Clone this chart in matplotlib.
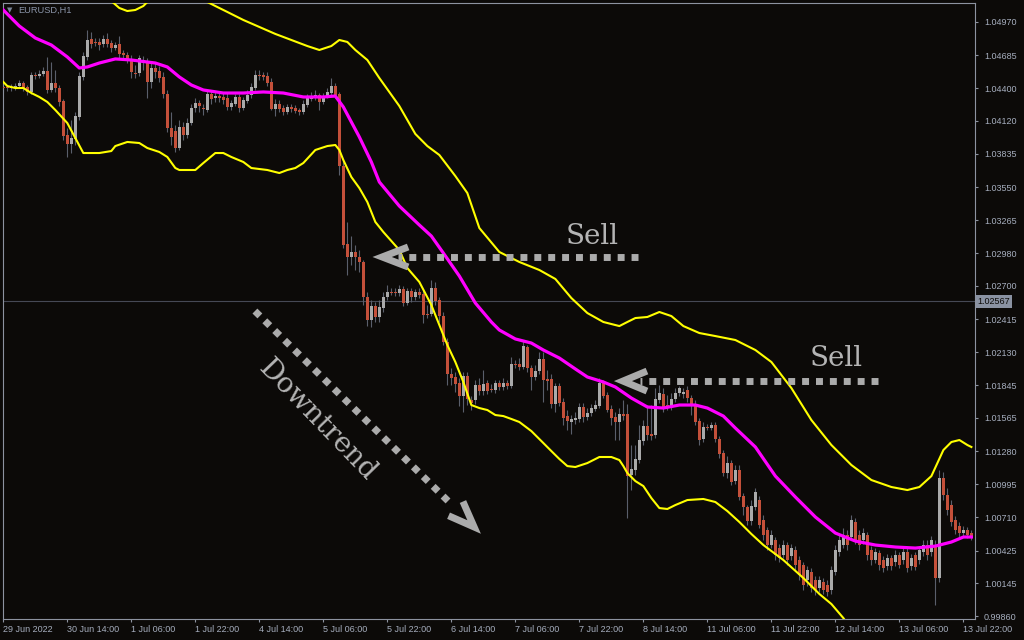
import numpy as np
import matplotlib.pyplot as plt

plt.rcParams["font.family"] = ["Liberation Sans", "DejaVu Sans"]

# EURUSD H1 candles, 29 Jun 22:00 .. 13 Jul 23:00
opens = [
    1.04402, 1.04402, 1.04402, 1.04402, 1.04419, 1.04445, 1.04411, 1.04368, 1.04514, 1.04505,
    1.04523, 1.04548, 1.04385, 1.04445, 1.04402, 1.04290, 1.03998, 1.03921, 1.03964, 1.04153,
    1.04497, 1.04669, 1.04824, 1.04798, 1.04798, 1.04781, 1.04824, 1.04789, 1.04746, 1.04781,
    1.04703, 1.04686, 1.04643, 1.04531, 1.04531, 1.04643, 1.04617, 1.04454, 1.04574, 1.04548,
    1.04497, 1.04351, 1.04058, 1.04032, 1.03886, 1.04067, 1.03998, 1.04101, 1.04230, 1.04273,
    1.04230, 1.04213, 1.04351, 1.04316, 1.04325, 1.04325, 1.04316, 1.04239, 1.04265, 1.04325,
    1.04230, 1.04290, 1.04342, 1.04402, 1.04514, 1.04514, 1.04505, 1.04454, 1.04222, 1.04265,
    1.04230, 1.04196, 1.04239, 1.04230, 1.04213, 1.04196, 1.04256, 1.04308, 1.04316, 1.04342,
    1.04282, 1.04333, 1.04359, 1.04419, 1.04351, 1.03731, 1.03061, 1.02949, 1.02992, 1.02949,
    1.02906, 1.02605, 1.02407, 1.02527, 1.02433, 1.02510, 1.02605, 1.02648, 1.02648, 1.02639,
    1.02674, 1.02553, 1.02656, 1.02605, 1.02648, 1.02631, 1.02459, 1.02459, 1.02682, 1.02579,
    1.02441, 1.02218, 1.01943, 1.01917, 1.01865, 1.01753, 1.01925, 1.01719, 1.01719, 1.01848,
    1.01796, 1.01865, 1.01814, 1.01805, 1.01865, 1.01831, 1.01865, 1.01839, 1.02029, 1.02029,
    1.02003, 1.02175, 1.01994, 1.01917, 1.01968, 1.02072, 1.01900, 1.01900, 1.01685, 1.01839,
    1.01702, 1.01581, 1.01530, 1.01547, 1.01556, 1.01659, 1.01573, 1.01607, 1.01642, 1.01667,
    1.01865, 1.01762, 1.01642, 1.01573, 1.01530, 1.01599, 1.01599, 1.01074, 1.01117, 1.01203,
    1.01366, 1.01495, 1.01427, 1.01418, 1.01719, 1.01771, 1.01676, 1.01667, 1.01728, 1.01779,
    1.01771, 1.01805, 1.01736, 1.01685, 1.01538, 1.01384, 1.01487, 1.01478, 1.01504, 1.01384,
    1.01263, 1.01091, 1.01177, 1.01022, 1.01117, 1.00893, 1.00799, 1.00678, 1.00799, 1.00859,
    1.00687, 1.00601, 1.00472, 1.00515, 1.00446, 1.00386, 1.00472, 1.00377, 1.00429, 1.00343,
    1.00300, 1.00171, 1.00240, 1.00171, 1.00102, 1.00154, 1.00128, 1.00085, 1.00240, 1.00412,
    1.00472, 1.00558, 1.00541, 1.00670, 1.00558, 1.00515, 1.00558, 1.00429, 1.00343, 1.00403,
    1.00343, 1.00291, 1.00360, 1.00326, 1.00386, 1.00343, 1.00412, 1.00291, 1.00386, 1.00343,
    1.00412, 1.00472, 1.00412, 1.00472, 1.00188, 1.01048, 1.00902, 1.00816, 1.00687, 1.00635,
    1.00575, 1.00601, 1.00575,
]
closes = [
    1.04398, 1.04398, 1.04411, 1.04419, 1.04445, 1.04402, 1.04368, 1.04514, 1.04505, 1.04523,
    1.04548, 1.04385, 1.04445, 1.04402, 1.04282, 1.03989, 1.03921, 1.03972, 1.04161, 1.04505,
    1.04677, 1.04815, 1.04781, 1.04789, 1.04772, 1.04824, 1.04781, 1.04746, 1.04772, 1.04695,
    1.04686, 1.04643, 1.04540, 1.04523, 1.04660, 1.04617, 1.04454, 1.04574, 1.04540, 1.04488,
    1.04351, 1.04058, 1.03981, 1.03886, 1.04067, 1.03998, 1.04101, 1.04230, 1.04273, 1.04247,
    1.04222, 1.04351, 1.04308, 1.04333, 1.04320, 1.04299, 1.04239, 1.04273, 1.04325, 1.04230,
    1.04299, 1.04342, 1.04411, 1.04514, 1.04508, 1.04497, 1.04445, 1.04222, 1.04265, 1.04222,
    1.04196, 1.04239, 1.04222, 1.04204, 1.04196, 1.04265, 1.04316, 1.04333, 1.04342, 1.04282,
    1.04333, 1.04368, 1.04419, 1.04342, 1.03731, 1.03052, 1.02949, 1.02992, 1.02949, 1.02906,
    1.02605, 1.02407, 1.02527, 1.02433, 1.02519, 1.02605, 1.02648, 1.02643, 1.02639, 1.02674,
    1.02553, 1.02656, 1.02605, 1.02648, 1.02622, 1.02450, 1.02454, 1.02682, 1.02570, 1.02441,
    1.02218, 1.01943, 1.01908, 1.01857, 1.01753, 1.01925, 1.01728, 1.01693, 1.01848, 1.01796,
    1.01857, 1.01796, 1.01809, 1.01865, 1.01831, 1.01865, 1.01839, 1.02029, 1.02024, 1.02003,
    1.02183, 1.01994, 1.01917, 1.01968, 1.02072, 1.01891, 1.01882, 1.01685, 1.01839, 1.01693,
    1.01564, 1.01538, 1.01556, 1.01564, 1.01659, 1.01573, 1.01607, 1.01650, 1.01676, 1.01865,
    1.01753, 1.01633, 1.01564, 1.01530, 1.01599, 1.01581, 1.01065, 1.01126, 1.01212, 1.01375,
    1.01495, 1.01418, 1.01409, 1.01728, 1.01779, 1.01659, 1.01671, 1.01728, 1.01779, 1.01822,
    1.01788, 1.01736, 1.01676, 1.01530, 1.01375, 1.01487, 1.01482, 1.01504, 1.01384, 1.01255,
    1.01091, 1.01177, 1.01014, 1.01117, 1.00885, 1.00799, 1.00678, 1.00807, 1.00928, 1.00644,
    1.00558, 1.00472, 1.00558, 1.00386, 1.00360, 1.00472, 1.00343, 1.00446, 1.00300, 1.00214,
    1.00128, 1.00257, 1.00102, 1.00085, 1.00171, 1.00085, 1.00068, 1.00257, 1.00429, 1.00515,
    1.00558, 1.00472, 1.00687, 1.00515, 1.00472, 1.00575, 1.00386, 1.00343, 1.00412, 1.00300,
    1.00274, 1.00360, 1.00291, 1.00386, 1.00300, 1.00412, 1.00274, 1.00360, 1.00283, 1.00429,
    1.00472, 1.00386, 1.00515, 1.00188, 1.01048, 1.00902, 1.00773, 1.00670, 1.00601, 1.00575,
    1.00601, 1.00558, 1.00541,
]
highs = [
    1.04428, 1.04419, 1.04437, 1.04445, 1.04471, 1.04462, 1.04428, 1.04540, 1.04540, 1.04557,
    1.04583, 1.04669, 1.04626, 1.04557, 1.04428, 1.04308, 1.04058, 1.04127, 1.04196, 1.04540,
    1.04712, 1.04901, 1.04884, 1.04832, 1.04832, 1.04858, 1.04875, 1.04815, 1.04798, 1.04849,
    1.04729, 1.04712, 1.04686, 1.04600, 1.04686, 1.04677, 1.04660, 1.04626, 1.04626, 1.04591,
    1.04540, 1.04385, 1.04196, 1.04084, 1.04127, 1.04110, 1.04144, 1.04265, 1.04316, 1.04299,
    1.04265, 1.04385, 1.04385, 1.04368, 1.04359, 1.04368, 1.04359, 1.04299, 1.04351, 1.04351,
    1.04325, 1.04385, 1.04445, 1.04557, 1.04557, 1.04540, 1.04540, 1.04488, 1.04308, 1.04299,
    1.04256, 1.04265, 1.04265, 1.04256, 1.04230, 1.04299, 1.04351, 1.04368, 1.04385, 1.04359,
    1.04359, 1.04402, 1.04488, 1.04445, 1.04368, 1.03783, 1.03250, 1.03129, 1.03052, 1.03009,
    1.02923, 1.02648, 1.02579, 1.02562, 1.02579, 1.02648, 1.02708, 1.02682, 1.02682, 1.02708,
    1.02699, 1.02682, 1.02682, 1.02674, 1.02682, 1.02665, 1.02536, 1.02751, 1.02734, 1.02605,
    1.02476, 1.02252, 1.01994, 1.01960, 1.01908, 1.01960, 1.01960, 1.01753, 1.01891, 1.01908,
    1.01977, 1.01891, 1.01857, 1.01891, 1.01891, 1.01908, 1.01891, 1.02089, 1.02063, 1.02080,
    1.02235, 1.02192, 1.02020, 1.02020, 1.02132, 1.02132, 1.01977, 1.01943, 1.01865, 1.01865,
    1.01736, 1.01633, 1.01590, 1.01616, 1.01693, 1.01693, 1.01650, 1.01685, 1.01719, 1.01908,
    1.01891, 1.01788, 1.01676, 1.01616, 1.01650, 1.01719, 1.01685, 1.01332, 1.01332, 1.01504,
    1.01547, 1.01676, 1.01676, 1.01822, 1.01848, 1.01822, 1.01762, 1.01779, 1.01822, 1.01839,
    1.01822, 1.01839, 1.01762, 1.01719, 1.01564, 1.01530, 1.01513, 1.01530, 1.01530, 1.01409,
    1.01289, 1.01237, 1.01203, 1.01160, 1.01160, 1.00919, 1.00816, 1.00859, 1.00962, 1.00893,
    1.00730, 1.00627, 1.00601, 1.00541, 1.00481, 1.00515, 1.00498, 1.00481, 1.00463, 1.00377,
    1.00326, 1.00291, 1.00274, 1.00205, 1.00205, 1.00188, 1.00171, 1.00291, 1.00472, 1.00558,
    1.00618, 1.00601, 1.00730, 1.00704, 1.00601, 1.00618, 1.00584, 1.00463, 1.00446, 1.00429,
    1.00377, 1.00395, 1.00386, 1.00429, 1.00412, 1.00446, 1.00446, 1.00395, 1.00412, 1.00463,
    1.00515, 1.00515, 1.00549, 1.00515, 1.01117, 1.01100, 1.00962, 1.00859, 1.00721, 1.00670,
    1.00635, 1.00627, 1.00601,
]
lows = [
    1.04368, 1.04376, 1.04376, 1.04385, 1.04402, 1.04376, 1.04342, 1.04351, 1.04480, 1.04488,
    1.04505, 1.04359, 1.04368, 1.04368, 1.04247, 1.03955, 1.03809, 1.03843, 1.03912, 1.04127,
    1.04471, 1.04643, 1.04746, 1.04763, 1.04729, 1.04755, 1.04755, 1.04712, 1.04729, 1.04660,
    1.04660, 1.04617, 1.04488, 1.04488, 1.04505, 1.04557, 1.04316, 1.04402, 1.04488, 1.04454,
    1.04316, 1.04024, 1.03912, 1.03852, 1.03869, 1.03955, 1.03972, 1.04084, 1.04196, 1.04196,
    1.04170, 1.04196, 1.04265, 1.04282, 1.04282, 1.04265, 1.04213, 1.04213, 1.04247, 1.04196,
    1.04213, 1.04273, 1.04316, 1.04385, 1.04471, 1.04471, 1.04419, 1.04213, 1.04161, 1.04196,
    1.04170, 1.04179, 1.04196, 1.04187, 1.04170, 1.04179, 1.04239, 1.04290, 1.04299, 1.04213,
    1.04265, 1.04316, 1.04342, 1.04316, 1.03654, 1.03026, 1.02794, 1.02880, 1.02837, 1.02820,
    1.02536, 1.02355, 1.02347, 1.02390, 1.02390, 1.02476, 1.02579, 1.02622, 1.02613, 1.02613,
    1.02527, 1.02536, 1.02562, 1.02579, 1.02596, 1.02381, 1.02424, 1.02441, 1.02536, 1.02390,
    1.02192, 1.01848, 1.01848, 1.01788, 1.01667, 1.01616, 1.01676, 1.01633, 1.01685, 1.01762,
    1.01762, 1.01771, 1.01788, 1.01779, 1.01805, 1.01805, 1.01814, 1.01822, 1.01994, 1.01977,
    1.01986, 1.01960, 1.01805, 1.01891, 1.01943, 1.01702, 1.01805, 1.01650, 1.01616, 1.01667,
    1.01504, 1.01461, 1.01427, 1.01513, 1.01530, 1.01530, 1.01547, 1.01581, 1.01624, 1.01650,
    1.01736, 1.01616, 1.01504, 1.01375, 1.01375, 1.01547, 1.00704, 1.00945, 1.01074, 1.01177,
    1.01332, 1.01375, 1.01375, 1.01392, 1.01693, 1.01616, 1.01633, 1.01633, 1.01702, 1.01753,
    1.01736, 1.01702, 1.01590, 1.01504, 1.01332, 1.01358, 1.01461, 1.01461, 1.01358, 1.01220,
    1.01065, 1.01048, 1.00988, 1.00997, 1.00859, 1.00730, 1.00644, 1.00644, 1.00773, 1.00618,
    1.00515, 1.00429, 1.00446, 1.00343, 1.00326, 1.00360, 1.00300, 1.00343, 1.00257, 1.00171,
    1.00085, 1.00119, 1.00068, 1.00042, 1.00068, 1.00051, 1.00033, 1.00051, 1.00214, 1.00377,
    1.00446, 1.00429, 1.00515, 1.00481, 1.00429, 1.00481, 1.00343, 1.00300, 1.00317, 1.00257,
    1.00240, 1.00257, 1.00257, 1.00291, 1.00274, 1.00309, 1.00240, 1.00257, 1.00257, 1.00309,
    1.00377, 1.00343, 1.00377, 0.99956, 1.00154, 1.00859, 1.00730, 1.00635, 1.00567, 1.00541,
    1.00549, 1.00532, 1.00515,
]

# indicator lines (bar index, price)
mid_bars = [0, 4, 8, 12, 16, 19, 21, 24, 28, 32, 38, 41, 44, 47, 50, 55, 60, 65, 70, 75,
            80, 83, 85, 89, 92, 94, 99, 104, 107, 110, 114, 118, 122, 124, 128, 132, 135,
            139, 143, 146, 150, 153, 157, 161, 165, 169, 173, 176, 180, 183, 188, 193, 198,
            203, 208, 213, 218, 223, 228, 233, 237, 240, 242]
mid_vals = [1.05073, 1.04935, 1.04832, 1.04772, 1.04669, 1.04574, 1.04583, 1.04617, 1.04652,
            1.04643, 1.04617, 1.04583, 1.04497, 1.04428, 1.04385, 1.04359, 1.04359, 1.04368,
            1.04359, 1.04325, 1.04325, 1.04333, 1.04239, 1.03981, 1.03766, 1.03594, 1.03387,
            1.03224, 1.03129, 1.02983, 1.02785, 1.02553, 1.02390, 1.02321, 1.02244, 1.02209,
            1.02149, 1.02080, 1.01986, 1.01917, 1.01874, 1.01831, 1.01736, 1.01659, 1.01650,
            1.01676, 1.01676, 1.01650, 1.01581, 1.01478, 1.01315, 1.01065, 1.00885, 1.00713,
            1.00575, 1.00506, 1.00472, 1.00455, 1.00446, 1.00463, 1.00498, 1.00541, 1.00541]

upper_bars = [0, 8, 14, 20, 25, 27, 29, 31, 33, 35, 37, 42, 47, 51, 53, 56, 60, 64, 68, 72,
              76, 79, 82, 84, 86, 88, 91, 94, 99, 103, 106, 109, 113, 116, 119, 124, 129,
              134, 138, 142, 146, 150, 154, 156, 158, 161, 164, 167, 170, 174, 178, 183,
              188, 192, 197, 202, 207, 212, 217, 222, 226, 229, 232, 235, 237, 239, 241, 242]
upper_vals = [1.05675, 1.05374, 1.05245, 1.05331, 1.05228, 1.05150, 1.05090, 1.05064,
              1.05073, 1.05107, 1.05176, 1.05262, 1.05228, 1.05142, 1.05107, 1.05056,
              1.04987, 1.04927, 1.04867, 1.04815, 1.04763, 1.04729, 1.04763, 1.04815,
              1.04798, 1.04729, 1.04643, 1.04488, 1.04247, 1.04007, 1.03903, 1.03826,
              1.03645, 1.03499, 1.03198, 1.02992, 1.02906, 1.02837, 1.02760, 1.02596,
              1.02467, 1.02390, 1.02355, 1.02390, 1.02424, 1.02433, 1.02476, 1.02441,
              1.02355, 1.02295, 1.02269, 1.02235, 1.02149, 1.02046, 1.01822, 1.01547,
              1.01332, 1.01160, 1.01031, 1.00971, 1.00945, 1.00971, 1.01065, 1.01289,
              1.01358, 1.01375, 1.01332, 1.01315]

lower_bars = [0, 1, 3, 5, 7, 9, 11, 13, 16, 18, 20, 24, 27, 28, 31, 34, 36, 39, 41, 43, 44,
              48, 50, 53, 55, 57, 60, 62, 66, 69, 71, 73, 75, 78, 81, 83, 84, 85, 87, 89,
              91, 93, 95, 99, 101, 104, 107, 109, 111, 113, 115, 117, 119, 121, 123, 125,
              127, 129, 132, 135, 137, 139, 141, 143, 146, 149, 152, 154, 155, 156, 158,
              160, 162, 164, 166, 168, 171, 175, 178, 181, 184, 187, 190, 195, 200, 204,
              207, 210, 212, 220, 230, 242]
lower_vals = [1.04454, 1.04419, 1.04402, 1.04402, 1.04359, 1.04325, 1.04282, 1.04213,
              1.04101, 1.03972, 1.03843, 1.03843, 1.03860, 1.03903, 1.03938, 1.03929,
              1.03886, 1.03852, 1.03809, 1.03714, 1.03697, 1.03697, 1.03757, 1.03843,
              1.03843, 1.03809, 1.03766, 1.03714, 1.03697, 1.03671, 1.03697, 1.03714,
              1.03757, 1.03869, 1.03903, 1.03912, 1.03869, 1.03783, 1.03637, 1.03542,
              1.03422, 1.03250, 1.03164, 1.03009, 1.02854, 1.02734, 1.02536, 1.02364,
              1.02192, 1.02046, 1.01874, 1.01676, 1.01650, 1.01633, 1.01590, 1.01581,
              1.01556, 1.01530, 1.01452, 1.01349, 1.01280, 1.01212, 1.01151, 1.01143,
              1.01177, 1.01229, 1.01229, 1.01203, 1.01151, 1.01091, 1.01022, 1.00979,
              1.00876, 1.00790, 1.00782, 1.00816, 1.00859, 1.00868, 1.00842, 1.00764,
              1.00670, 1.00567, 1.00472, 1.00343, 1.00188, 1.00051, 0.99965, 0.99844,
              0.99741, 0.99569, 0.99483, 0.99139]

price_ticks = [1.04970, 1.04685, 1.04400, 1.04120, 1.03835, 1.03550, 1.03265, 1.02980,
               1.02700, 1.02415, 1.02130, 1.01845, 1.01565, 1.01280, 1.00995, 1.00710,
               1.00425, 1.00145, 0.99860]
time_ticks = [0, 16, 32, 48, 64, 80, 96, 112, 128, 144, 160, 176, 192, 208, 224, 240]
time_labels = ["29 Jun 2022", "30 Jun 14:00", "1 Jul 06:00", "1 Jul 22:00", "4 Jul 14:00",
               "5 Jul 06:00", "5 Jul 22:00", "6 Jul 14:00", "7 Jul 06:00", "7 Jul 22:00",
               "8 Jul 14:00", "11 Jul 06:00", "11 Jul 22:00", "12 Jul 14:00",
               "13 Jul 06:00", "13 Jul 22:00"]
last_price = 1.02567

bg = "#0c0a08"
axis_col = "#8d93a0"
label_col = "#a6aebe"
bull_col = "#aaaaaa"
bear_col = "#c4503a"
wick_col = "#5a5f6b"
note_col = "#ababab"

fig = plt.figure(figsize=(10.24, 6.4), dpi=100)
fig.patch.set_facecolor(bg)
ax = fig.add_axes([3 / 1024, 21 / 640, 972 / 1024, 616 / 640])
ax.set_facecolor(bg)

o = np.array(opens)
c = np.array(closes)
x = np.arange(len(c))
up = c >= o
body = np.maximum(np.abs(c - o), 0.00009)
bottom = np.minimum(o, c)

# last price line
ax.axhline(last_price, color="#464955", lw=0.8, zorder=1)

# candles
ax.vlines(x, lows, highs, color=wick_col, lw=0.8, zorder=2)
ax.bar(x[up], body[up], 0.75, bottom[up], color=bull_col, linewidth=0, zorder=3)
ax.bar(x[~up], body[~up], 0.75, bottom[~up], color=bear_col, linewidth=0, zorder=3)

# bands
ax.plot(upper_bars, upper_vals, color="#ffff00", lw=1.5, zorder=4)
ax.plot(lower_bars, lower_vals, color="#ffff00", lw=1.5, zorder=4)
ax.plot(mid_bars, mid_vals, color="#ff00ff", lw=2.3, zorder=5)

# annotations
dots = dict(color=note_col, lw=5, linestyle=(0, (1, 1)), solid_capstyle="butt",
            dash_capstyle="butt", zorder=6)
head = dict(color=note_col, lw=5, solid_joinstyle="miter", solid_capstyle="butt", zorder=6)

ax.plot([158.7, 98.7], [1.02949, 1.02949], **dots)
ax.plot([101.2, 94.7, 101.2], [1.03035, 1.02949, 1.02863], **head)
ax.text(147.2, 1.03129, "Sell", family="DejaVu Serif", fontsize=20, color="#b4b4b4",
        ha="center", va="center", zorder=6)

ax.plot([218.7, 159.2], [1.01882, 1.01882], **dots)
ax.plot([160.9, 154.9, 160.9], [1.01968, 1.01882, 1.01796], **head)
ax.text(208.2, 1.02080, "Sell", family="DejaVu Serif", fontsize=20, color="#b4b4b4",
        ha="center", va="center", zorder=6)

ax.plot([62.9, 112.2], [1.02484, 1.00816], **dots)
ax.plot([114.9, 117.7, 111.3], [1.00846, 1.00627, 1.00724], **head)
ax.text(78.4, 1.01547, "Downtrend", family="DejaVu Serif", fontsize=20, color="#b4b4b4",
        ha="center", va="center", rotation=-46, rotation_mode="anchor", zorder=6)

ax.set_xlim(-0.075, 242.9)
ax.set_ylim(0.99836, 1.05133)

# axes styling
for s in ax.spines.values():
    s.set_color(axis_col)
    s.set_linewidth(0.8)

ax.yaxis.tick_right()
ax.set_yticks(price_ticks)
ax.set_yticklabels([f"{p:.5f}" for p in price_ticks])
ax.set_xticks(time_ticks)
ax.set_xticklabels(time_labels)
for lab in ax.get_xticklabels():
    lab.set_ha("left")
ax.tick_params(axis="y", right=True, left=False, length=2.5, width=0.8, color=axis_col,
               labelcolor=label_col, labelsize=6.5, pad=4)
ax.tick_params(axis="x", bottom=True, length=2.5, width=0.8, color=axis_col,
               labelcolor=label_col, labelsize=6.5, pad=1.5)

# price tag
ax.text(1.0025, last_price, "1.02567", transform=ax.get_yaxis_transform(), ha="left",
        va="center", fontsize=6.5, color=bg, clip_on=False, zorder=7,
        bbox=dict(boxstyle="square,pad=0.2", fc="#8a92a2", ec="none"))

fig.text(7 / 1024, 1 - 10 / 640, "\u25bc", fontsize=5, color="#7c869a",
         family="DejaVu Sans", va="center")
fig.text(18 / 1024, 1 - 10 / 640, "EURUSD,H1", fontsize=6.7, color="#8a94a8", va="center")

fig.savefig("out.png", dpi=100, facecolor=bg)
